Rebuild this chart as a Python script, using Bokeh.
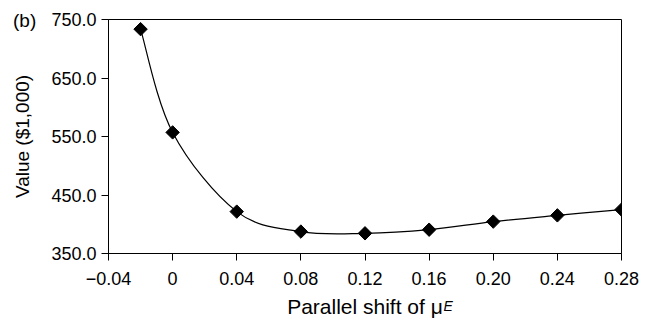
import numpy as np
from bokeh.plotting import figure
from bokeh.models import FixedTicker, Range1d, Title
from bokeh.embed import file_html
from bokeh.resources import INLINE

# Data
shift = [-0.02, 0.0, 0.04, 0.08, 0.12, 0.16, 0.20, 0.24, 0.28]
value = [733.5, 557.0, 421.6, 387.5, 384.5, 390.7, 404.5, 415.2, 425.0]

x_ticks = [-0.04, 0.0, 0.04, 0.08, 0.12, 0.16, 0.20, 0.24, 0.28]
x_tick_labels = ["\u22120.04", "0", "0.04", "0.08", "0.12", "0.16", "0.20", "0.24", "0.28"]
y_ticks = [350, 450, 550, 650, 750]
y_tick_labels = ["350.0", "450.0", "550.0", "650.0", "750.0"]

FONT = "Liberation Sans"
W, H = 640, 320

p = figure(width=W, height=H, output_backend="svg", toolbar_location=None,
           x_range=Range1d(-0.04, 0.28), y_range=Range1d(350, 750),
           min_border_left=108, min_border_right=W - 621, min_border_top=19,
           min_border_bottom=66)
p.grid.visible = False
p.outline_line_color = "black"
p.outline_line_width = 1
p.background_fill_color = "white"
p.border_fill_color = "white"

for ax in (p.xaxis[0], p.yaxis[0]):
    ax.axis_line_color = "black"
    ax.major_tick_line_color = "black"
    ax.major_tick_out = 7
    ax.major_tick_in = 0
    ax.minor_tick_line_color = None
    ax.major_label_text_font = FONT
    ax.major_label_text_font_size = "18px"
    ax.major_label_text_color = "black"
    ax.axis_label_text_font = FONT
    ax.axis_label_text_font_style = "normal"
    ax.axis_label_text_color = "black"

p.xaxis.ticker = FixedTicker(ticks=x_ticks)
p.xaxis.major_label_overrides = {t: l for t, l in zip(x_ticks, x_tick_labels)}
p.xaxis.major_label_standoff = 11
p.xaxis.axis_label = "Parallel shift of \u03bc"
p.xaxis.axis_label_text_font_size = "21px"
p.xaxis.axis_label_standoff = 7

p.yaxis.ticker = FixedTicker(ticks=y_ticks)
p.yaxis.major_label_overrides = {t: l for t, l in zip(y_ticks, y_tick_labels)}
p.yaxis.major_label_standoff = 5
p.yaxis.axis_label = "Value ($1,000)"
p.yaxis.axis_label_text_font_size = "19px"
p.yaxis.axis_label_standoff = 15

# Smoothed connecting curve (Catmull-Rom -> cubic Bezier, computed from the data)
xs = np.array(shift)
ys = np.array(value)
n = len(xs)
px = np.concatenate([[xs[0]], xs, [xs[-1]]])
py = np.concatenate([[ys[0]], ys, [ys[-1]]])
x0, y0, x1, y1, cx0, cy0, cx1, cy1 = [], [], [], [], [], [], [], []
for i in range(n - 1):
    a, b, c, d = i, i + 1, i + 2, i + 3
    x0.append(px[b]); y0.append(py[b]); x1.append(px[c]); y1.append(py[c])
    cx0.append(px[b] + (px[c] - px[a]) / 6.0); cy0.append(py[b] + (py[c] - py[a]) / 6.0)
    cx1.append(px[c] - (px[d] - px[b]) / 6.0); cy1.append(py[c] - (py[d] - py[b]) / 6.0)
p.bezier(x0=x0, y0=y0, x1=x1, y1=y1, cx0=cx0, cy0=cy0, cx1=cx1, cy1=cy1,
         line_color="black", line_width=1.2)

p.scatter(shift, value, marker="square", angle=np.pi / 4, size=9.5,
          fill_color="black", line_color="black")

# Superscript E of the x label and the panel tag "(b)", placed as titles
FL = 108
p.add_layout(Title(text="E", align="left", offset=443 - FL, vertical_align="top",
                   standoff=-46, text_font=FONT, text_font_size="14px",
                   text_font_style="italic", text_color="black"), "below")
p.add_layout(Title(text="(b)", align="left", offset=12.5 - FL, vertical_align="bottom",
                   standoff=-22, text_font=FONT, text_font_size="19px",
                   text_font_style="normal", text_color="black"), "above")

open("out.html", "w").write(file_html(p, INLINE))
